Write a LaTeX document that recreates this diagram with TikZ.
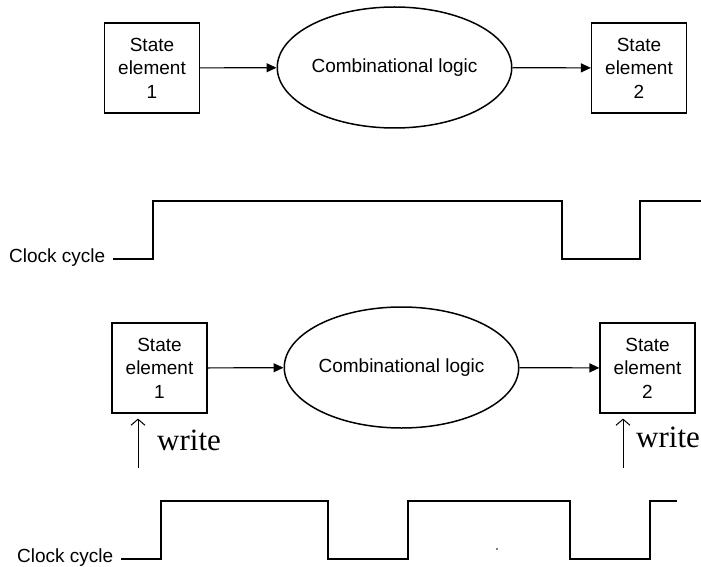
\documentclass[tikz,border=0pt]{standalone}
\usepackage{fontspec}
\setmainfont{Liberation Sans}
\newfontfamily\writefont{Liberation Serif}
\usepackage{tikz}
\usetikzlibrary{shapes.geometric,arrows.meta}

\begin{document}
\begin{tikzpicture}[x=1pt, y=-1pt,
    stbox/.style={draw, line width=1.2pt, minimum width=95pt, minimum height=90pt, inner sep=0pt, align=center, font=\fontsize{19}{23.5}\selectfont},
    logic/.style={draw, ellipse, line width=1.5pt, minimum width=196pt, minimum height=121pt, inner sep=0pt, font=\fontsize{19}{23.5}\selectfont},
    conn/.style={line width=1.2pt, -{Triangle[length=10pt,width=9pt]}},
    wr/.style={line width=1pt, -{Straight Barb[length=6pt,width=14pt]}, shorten >=5pt},
    clk/.style={line width=1.6pt},
    lbl/.style={inner sep=0pt, anchor=base west, font=\fontsize{19}{23.5}\selectfont}]
    \useasboundingbox (0,0) rectangle (701,567);
    % first layout
    \node[stbox] (se1a) at (152,68) {State\\element\\1};
    \node[logic] (cla) at (394.5,67.5) {Combinational logic};
    \node[stbox] (se2a) at (639,68) {State\\element\\2};
    \draw[conn] (se1a) -- (cla);
    \draw[conn] (cla) -- (se2a);
    \node[lbl] (clka) at (9,262) {Clock cycle};
    \draw[clk] (113,259) -| (153,201) -| (562,259) -| (640,201) -- (701,201);
    % second layout
    \node[stbox] (se1b) at (159.5,368) {State\\element\\1};
    \node[logic] (clb) at (401.5,367.5) {Combinational logic};
    \node[stbox] (se2b) at (647.5,368) {State\\element\\2};
    \draw[conn] (se1b) -- (clb);
    \draw[conn] (clb) -- (se2b);
    \coordinate (w1) at (138,468);
    \coordinate (w2) at (623,468);
    \draw[wr] (w1) -- (se1b.south -| w1);
    \draw[wr] (w2) -- (se2b.south -| w2);
    \node[inner sep=0pt, anchor=base west, font=\writefont\fontsize{31}{31}\selectfont] (wra) at (157,450) {write};
    \node[inner sep=0pt, anchor=base west, font=\writefont\fontsize{31}{31}\selectfont] (wrb) at (636,447) {write};
    \node[lbl] (clkb) at (17,562) {Clock cycle};
    \draw[clk] (121,559) -| (161,501) -| (328,559) -| (408,501) -| (570,559) -| (650,501) -- (677,501);
    \fill (497,549) circle (0.9pt);
\end{tikzpicture}
\end{document}
